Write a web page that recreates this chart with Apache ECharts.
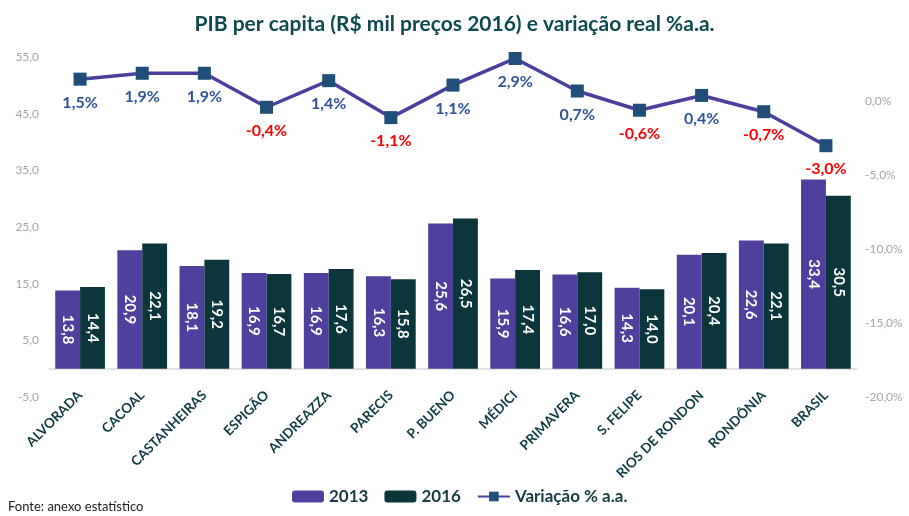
<!DOCTYPE html>
<html>
<head>
<meta charset="utf-8">
<script src="https://cdn.jsdelivr.net/npm/echarts@6/dist/echarts.min.js"></script>
<style>
  html, body { margin: 0; padding: 0; background: #fff; }
  #chart { width: 909px; height: 516px; }
</style>
</head>
<body>
<div id="chart"></div>
<script>
const categories = ["ALVORADA", "CACOAL", "CASTANHEIRAS", "ESPIGÃO", "ANDREAZZA", "PARECIS",
  "P. BUENO", "MÉDICI", "PRIMAVERA", "S. FELIPE", "RIOS DE RONDON", "RONDÔNIA", "BRASIL"];
const pib2013 = [13.8, 20.9, 18.1, 16.9, 16.9, 16.3, 25.6, 15.9, 16.6, 14.3, 20.1, 22.6, 33.4];
const pib2016 = [14.4, 22.1, 19.2, 16.7, 17.6, 15.8, 26.5, 17.4, 17.0, 14.0, 20.4, 22.1, 30.5];
const variacao = [1.5, 1.9, 1.9, -0.4, 1.4, -1.1, 1.1, 2.9, 0.7, -0.6, 0.4, -0.7, -3.0];

const fontFamily = "Lato, 'Open Sans', sans-serif";
const fmt1 = (v) => v.toFixed(1).replace(".", ",");

const chart = echarts.init(document.getElementById("chart"));

const barLabel = {
  show: true,
  position: "inside",
  rotate: -90,
  color: "#fff",
  fontWeight: "bold",
  fontSize: 15,
  fontFamily: fontFamily,
  formatter: (p) => fmt1(p.value),
};

// labels of the line: red when negative
const lineData = variacao.map((v) => ({
  value: v,
  label: { color: v < 0 ? "#ff0000" : "#2f5597" },
}));

chart.setOption({
  animation: false,
  textStyle: { fontFamily: fontFamily },
  title: {
    text: "PIB per capita (R$ mil preços 2016) e variação real %a.a.",
    left: "center",
    top: 9,
    textStyle: { color: "#0e4a4f", fontSize: 21, fontWeight: "bold", fontFamily: fontFamily },
  },
  graphic: [{
    type: "text",
    left: 8,
    top: 500,
    style: { text: "Fonte: anexo estatístico", fill: "#222", fontSize: 13, fontFamily: fontFamily },
  }],
  legend: {
    bottom: 6,
    left: 287,
    itemGap: 16,
    itemWidth: 32,
    itemHeight: 12,
    textStyle: { color: "#173c44", fontSize: 17, fontWeight: "bold", fontFamily: fontFamily },
    data: ["2013", "2016", "Variação % a.a."],
  },
  grid: { left: 49, right: 52, top: 57, bottom: 119 },
  xAxis: {
    type: "category",
    data: categories,
    axisTick: { show: false },
    axisLine: { lineStyle: { color: "#d9d9d9", width: 1.5 } },
    axisLabel: {
      interval: 0,
      rotate: 45,
      color: "#0f3b44",
      fontWeight: "bold",
      fontSize: 13.5,
      margin: -4,
    },
  },
  yAxis: [
    {
      type: "value",
      min: -5,
      max: 55,
      interval: 10,
      splitLine: { show: false },
      axisLine: { show: false },
      axisTick: { show: false },
      axisLabel: { color: "#a6a6a6", fontSize: 12, margin: 10, formatter: (v) => fmt1(v) },
    },
    {
      type: "value",
      min: -20,
      max: 3,
      interval: 5,
      splitLine: { show: false },
      axisLine: { show: false },
      axisTick: { show: false },
      axisLabel: {
        color: "#a6a6a6",
        fontSize: 12,
        margin: 8,
        showMaxLabel: false,
        formatter: (v) => (v > 0 ? "" : fmt1(v) + "%"),
      },
    },
  ],
  series: [
    {
      name: "2013",
      type: "bar",
      data: pib2013,
      barGap: "0%",
      barCategoryGap: "20%",
      itemStyle: { color: "#4f409e" },
      label: barLabel,
    },
    {
      name: "2016",
      type: "bar",
      data: pib2016,
      itemStyle: { color: "#0b363b" },
      label: barLabel,
    },
    {
      name: "Variação % a.a.",
      type: "line",
      yAxisIndex: 1,
      data: lineData,
      symbol: "rect",
      symbolSize: 13,
      lineStyle: { color: "#4b3f9e", width: 3.5 },
      itemStyle: { color: "#1f4e79" },
      label: {
        show: true,
        position: "bottom",
        distance: 9,
        fontSize: 16,
        fontWeight: "bold",
        fontFamily: fontFamily,
        formatter: (p) => fmt1(p.value) + "%",
      },
    },
  ],
});
</script>
</body>
</html>
